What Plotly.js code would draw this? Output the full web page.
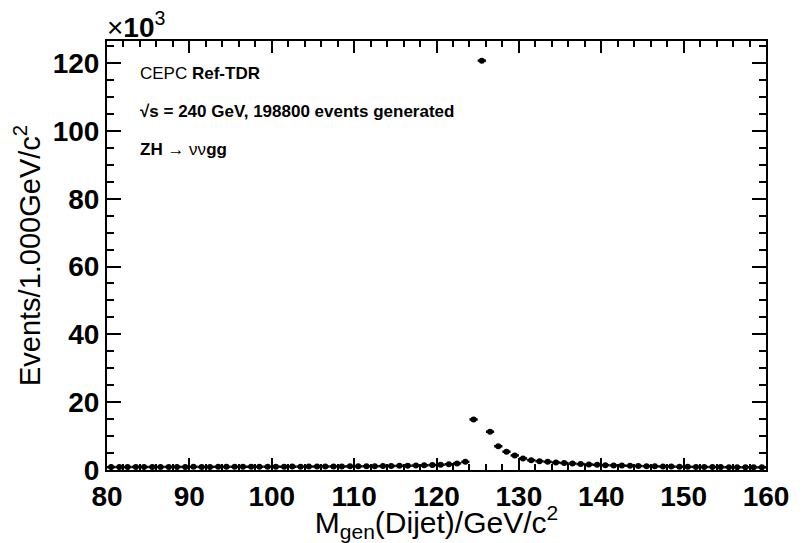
<!DOCTYPE html>
<html>
<head>
<meta charset="utf-8">
<script src="https://cdn.plot.ly/plotly-3.0.1.min.js"></script>
<style>html,body{margin:0;padding:0;background:#fff;}#chart{width:804px;height:543px;}</style>
</head>
<body>
<div id="chart"></div>
<script>
// Bin centres (GeV/c^2), 1 GeV bins from 80 to 160
const binCenters = [
  80.5, 81.5, 82.5, 83.5, 84.5, 85.5, 86.5, 87.5, 88.5, 89.5,
  90.5, 91.5, 92.5, 93.5, 94.5, 95.5, 96.5, 97.5, 98.5, 99.5,
  100.5, 101.5, 102.5, 103.5, 104.5, 105.5, 106.5, 107.5, 108.5, 109.5,
  110.5, 111.5, 112.5, 113.5, 114.5, 115.5, 116.5, 117.5, 118.5, 119.5,
  120.5, 121.5, 122.5, 123.5, 124.5, 125.5, 126.5, 127.5, 128.5, 129.5,
  130.5, 131.5, 132.5, 133.5, 134.5, 135.5, 136.5, 137.5, 138.5, 139.5,
  140.5, 141.5, 142.5, 143.5, 144.5, 145.5, 146.5, 147.5, 148.5, 149.5,
  150.5, 151.5, 152.5, 153.5, 154.5, 155.5, 156.5, 157.5, 158.5, 159.5
];
// Events per bin, in units of 10^3
const eventsK = [
  0.85, 0.88, 0.86, 0.90, 0.87, 0.90, 0.89, 0.92, 0.90, 0.91,
  0.93, 0.90, 0.92, 0.94, 0.93, 0.95, 0.94, 0.96, 0.95, 0.97,
  0.98, 0.97, 1.00, 0.99, 1.01, 1.02, 1.03, 1.05, 1.04, 1.07,
  1.08, 1.10, 1.12, 1.15, 1.18, 1.22, 1.26, 1.31, 1.38, 1.45,
  1.55, 1.70, 1.95, 2.40, 14.9, 120.7, 11.3, 7.0, 5.4, 4.3,
  3.4, 2.9, 2.6, 2.4, 2.2, 2.05, 1.9, 1.75, 1.62, 1.52,
  1.43, 1.36, 1.30, 1.24, 1.18, 1.13, 1.08, 1.04, 1.00, 0.97,
  0.94, 0.91, 0.89, 0.87, 0.85, 0.83, 0.82, 0.80, 0.79, 0.78
];
const binHalfWidth = 0.5;
const xRange = [80, 160];
const yRange = [0, 126.5];

const labels = [
  'CEPC <b>Ref-TDR</b>',
  '<b>\u221As = 240 GeV, 198800 events generated</b>',
  '<b>ZH</b> \u2192 \u03BD\u03BD<b>gg</b>'
];
const labelY = [74, 111, 150];

const FONT = 'Liberation Sans, Arial, Helvetica, sans-serif';

const trace = {
  type: 'scatter',
  mode: 'markers',
  x: binCenters,
  y: eventsK,
  marker: {symbol: 'circle', size: 6, color: 'black'},
  error_x: {type: 'constant', value: binHalfWidth, width: 0, thickness: 2.5, color: 'black'},
  hoverinfo: 'x+y',
  showlegend: false
};
// placeholder trace (no drawable point) that carries the overlay axes used for minor ticks
const minorTickCarrier = {
  type: 'scatter', mode: 'markers', x: [null], y: [null],
  xaxis: 'x2', yaxis: 'y2', hoverinfo: 'skip', showlegend: false
};

const L = 107, R = 766, T = 41, B = 470, W = 804, H = 543;

const annotations = labels.map((t, i) => ({
  text: t, xref: 'paper', yref: 'paper',
  x: (138 - L) / (R - L), xanchor: 'left',
  y: (B - labelY[i]) / (B - T), yanchor: 'middle',
  showarrow: false,
  font: {family: FONT, size: 17, color: 'black'}
}));
annotations.push({
  text: '\u00D7<b>10</b><sup>3</sup>', xref: 'paper', yref: 'paper',
  x: 0, xanchor: 'left', xshift: -2, y: 1, yanchor: 'bottom', yshift: -4,
  showarrow: false,
  font: {family: FONT, size: 28, color: 'black'}
});

const MINOR_COLOR = 'black';

const layout = {
  width: W, height: H,
  margin: {l: L, r: W - R, t: T, b: H - B, pad: 0},
  paper_bgcolor: 'white', plot_bgcolor: 'white',
  font: {family: FONT, color: 'black'},
  showlegend: false,
  xaxis: {
    range: xRange, tickmode: 'linear', tick0: 80, dtick: 10,
    ticks: 'inside', ticklen: 12, tickwidth: 2, tickcolor: 'black',
    showline: true, linecolor: 'black', linewidth: 2, mirror: 'ticks',
    showgrid: false, zeroline: false,
    tickfont: {family: FONT, size: 28, weight: 'bold', color: 'black'},
    title: {text: 'M<sub>gen</sub>(Dijet)/GeV/c<sup>2</sup>', font: {family: FONT, size: 30, color: 'black'}, standoff: 15}
  },
  yaxis: {
    range: yRange, tickmode: 'linear', tick0: 0, dtick: 20,
    ticks: 'inside', ticklen: 14, tickwidth: 2, tickcolor: 'black',
    showline: true, linecolor: 'black', linewidth: 2, mirror: 'ticks',
    showgrid: false, zeroline: false,
    tickfont: {family: FONT, size: 28, weight: 'bold', color: 'black'},
    title: {text: 'Events/1.000GeV/c<sup>2</sup>', font: {family: FONT, size: 29, color: 'black'}, standoff: 4}
  },
  xaxis2: {
    overlaying: 'x', anchor: 'y2', side: 'bottom',
    range: xRange, tickmode: 'linear', tick0: 80, dtick: 2,
    ticks: 'inside', ticklen: 6, tickwidth: 2, tickcolor: MINOR_COLOR,
    showticklabels: false, showline: false, mirror: 'ticks',
    showgrid: false, zeroline: false, fixedrange: true
  },
  yaxis2: {
    overlaying: 'y', anchor: 'x2', side: 'left',
    range: yRange, tickmode: 'linear', tick0: 0, dtick: 5,
    ticks: 'inside', ticklen: 7, tickwidth: 2, tickcolor: MINOR_COLOR,
    showticklabels: false, showline: false, mirror: 'ticks',
    showgrid: false, zeroline: false, fixedrange: true
  },
  annotations: annotations
};

Plotly.newPlot('chart', [trace, minorTickCarrier], layout, {displayModeBar: false, staticPlot: true});
</script>
</body>
</html>
